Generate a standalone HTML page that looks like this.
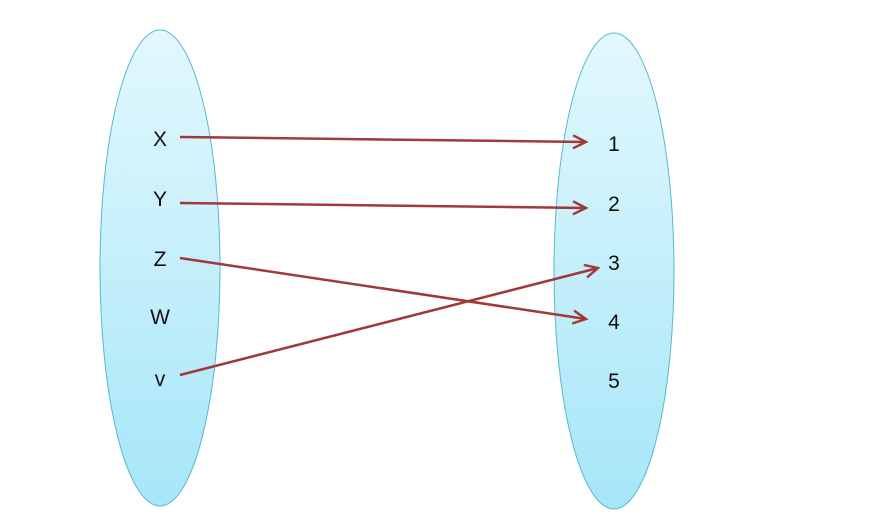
<!DOCTYPE html>
<html><head><style>body{margin:0;background:#fff}svg{display:block}</style></head><body>
<svg width="871" height="530" xmlns="http://www.w3.org/2000/svg">
<defs>
<linearGradient id="g" x1="0" y1="0" x2="0" y2="1">
<stop offset="0" stop-color="#e2f8fd"/><stop offset="1" stop-color="#a6e6f8"/>
</linearGradient>
<marker id="a" markerWidth="18" markerHeight="16" refX="15" refY="8" orient="auto" markerUnits="userSpaceOnUse">
<path d="M2,1.5 L15,8 L2,14.5" fill="none" stroke="#a0393a" stroke-width="2.4"/>
</marker>
</defs>
<ellipse cx="160" cy="268" rx="60" ry="238" fill="url(#g)" stroke="#5ab8d0" stroke-width="1"/>
<ellipse cx="614" cy="271" rx="60" ry="238" fill="url(#g)" stroke="#5ab8d0" stroke-width="1"/>
<g font-family="Liberation Sans, sans-serif" font-size="21" fill="#111" text-anchor="middle">
<text x="160" y="146">X</text><text x="160" y="206">Y</text><text x="160" y="266">Z</text>
<text x="160" y="324">W</text><text x="160" y="386">v</text>
<text x="614" y="151">1</text><text x="614" y="211">2</text><text x="614" y="270">3</text>
<text x="614" y="329">4</text><text x="614" y="388">5</text>
</g>
<g stroke="#a0393a" stroke-width="2.5" marker-end="url(#a)">
<line x1="180" y1="137" x2="586" y2="142"/>
<line x1="180" y1="203" x2="586" y2="208"/>
<line x1="180" y1="258" x2="586" y2="319"/>
<line x1="180" y1="375" x2="598" y2="268"/>
</g>
</svg>
</body></html>
